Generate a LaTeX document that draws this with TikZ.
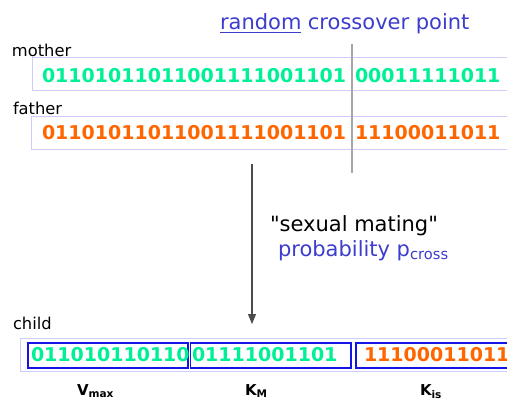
\documentclass[tikz,border=0pt]{standalone}
\usepackage{fontspec}
\setmainfont{DejaVu Sans}
\newfontfamily\qfont{DejaVu Sans}
\usetikzlibrary{arrows.meta}
\definecolor{bitgreen}{RGB}{0,240,150}
\definecolor{bitorange}{RGB}{255,102,0}
\definecolor{txtblue}{RGB}{60,60,205}
\definecolor{lav}{RGB}{204,204,255}
\definecolor{boxblue}{RGB}{20,20,230}
\tikzset{
  t/.style={inner sep=0pt, outer sep=0pt, anchor=base west},
  lbl/.style={t, font=\fontsize{16.3}{19}\selectfont, text=black},
  bitsg/.style={t, font=\fontsize{19}{22}\selectfont\bfseries, text=bitgreen},
  bitso/.style={t, font=\fontsize{19}{22}\selectfont\bfseries, text=bitorange},
  bigtxt/.style={t, font=\fontsize{21}{25}\selectfont},
  chrom/.style={draw=lav, line width=1pt},
  gene/.style={draw=boxblue, line width=1.4pt},
  sub/.style={t, font=\fontsize{15}{18}\selectfont\bfseries},
}
\begin{document}
\begin{tikzpicture}[x=1pt,y=-1pt]
\useasboundingbox (0,0) rectangle (507,405);
\clip (0,0) rectangle (507,405);
% title
\node[bigtxt, text=txtblue] (rnd) at (220,29) {random};
\node[bigtxt, text=txtblue, anchor=base west] (cop) at ([xshift=6.5pt]rnd.base east) {crossover point};
\draw[txtblue, line width=1pt] ([yshift=-3pt]rnd.base west) -- ([yshift=-3pt]rnd.base east);
% chromosome boxes
\draw[chrom] (32,57) rectangle (520,90.5);
\draw[chrom] (31,116) rectangle (520,149);
\draw[chrom] (20,338) rectangle (520,371);
% labels
\node[lbl] (mother) at (12,56) {mother};
\node[lbl] (father) at (13,114) {father};
\node[lbl] (child) at (13,329) {child};
% bits
\node[bitsg] (m1) at (42,82.7) {01101011011001111001101};
\node[bitsg] (m2) at (355,82.7) {00011111011};
\node[bitso] (f1) at (42,139) {01101011011001111001101};
\node[bitso] (f2) at (355,139) {11100011011};
% crossover line
\coordinate (cxtop) at (352,44);
\coordinate (cxbot) at (352,173);
\draw[gray!70, line width=1.2pt] (cxtop) -- (cxbot);
% arrow
\coordinate (atop) at (252,164);
\coordinate (atip) at (252,324);
\draw[black!70, line width=1.1pt, -{Triangle[length=10pt,width=8pt]}] (atop) -- (atip);
\node[bigtxt] (sm) at (270,231) {\qfont"sexual mating"};
\node[bigtxt, text=txtblue] (prob) at (278,256.5) {probability p\textsubscript{cross}};
% child genes
\draw[gene] (28,343) rectangle (188,368);
\draw[gene] (190.5,343) rectangle (351,368);
\draw[gene] (356,343) rectangle (525,368);
\node[bitsg] (c1) at (31,361.7) {011010110110};
\node[bitsg] (c2) at (192,361.7) {01111001101};
\node[bitso] (c3) at (364,361.7) {11100011011};
% parameter labels
\node[sub] (vmax) at (77,395) {V\textsubscript{max}};
\node[sub] (km) at (245,395) {K\textsubscript{M}};
\node[sub] (kis) at (420,395) {K\textsubscript{is}};
\end{tikzpicture}
\end{document}
